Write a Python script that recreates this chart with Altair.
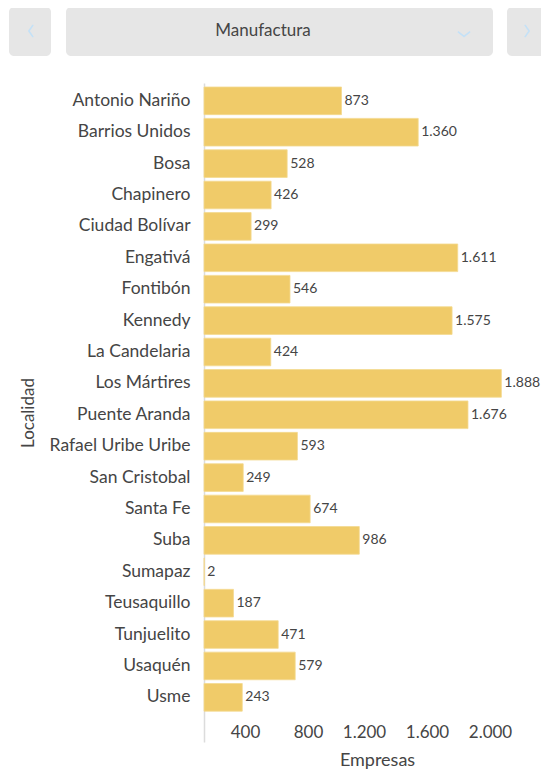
import altair as alt
import pandas as pd

localidades = ["Antonio Nariño", "Barrios Unidos", "Bosa", "Chapinero", "Ciudad Bolívar",
               "Engativá", "Fontibón", "Kennedy", "La Candelaria", "Los Mártires",
               "Puente Aranda", "Rafael Uribe Uribe", "San Cristobal", "Santa Fe", "Suba",
               "Sumapaz", "Teusaquillo", "Tunjuelito", "Usaquén", "Usme"]
empresas = [873, 1360, 528, 426, 299, 1611, 546, 1575, 424, 1888,
            1676, 593, 249, 674, 986, 2, 187, 471, 579, 243]
x_ticks = [400, 800, 1200, 1600, 2000]
sector = "Manufactura"

def fmt(v):
    return f"{v:,}".replace(",", ".")

df = pd.DataFrame({"Localidad": localidades, "Empresas": empresas,
                   "label": [fmt(v) for v in empresas]})

FONT = "Lato"
TXT = "#454545"
W, H = 315, 659

y_enc = alt.Y("Localidad:N", sort=None,
              scale=alt.Scale(paddingInner=0.12, paddingOuter=0.555, align=0.115),
              axis=alt.Axis(title="Localidad", ticks=False, tickSize=0,
                            labelFontSize=17.5, labelFont=FONT, labelColor=TXT,
                            labelPadding=14, domainColor="#dcdcdc", domainWidth=1.5,
                            titleFont=FONT, titleFontSize=17, titleFontWeight="normal",
                            titleColor=TXT, titleX=-176, titleY=H / 2,
                            titleBaseline="middle", titleAngle=270))
x_enc = alt.X("Empresas:Q", scale=alt.Scale(domain=[0, 2000], nice=False),
              axis=alt.Axis(title="Empresas", values=x_ticks, grid=False, domain=False,
                            ticks=False, tickSize=0, offset=-20, labelPadding=2.5,
                            labelOverlap=False, labelFlush=False, labelBound=False,
                            labelExpr="replace(format(datum.value, ','), ',', '.')",
                            labelFontSize=17, labelFont=FONT, labelColor=TXT,
                            labelOffset={"condition": {"test": "datum.value <= 800", "value": -22},
                                         "value": -29},
                            titleFont=FONT, titleFontSize=18, titleFontWeight="normal",
                            titleColor=TXT, titleX=173, titleY=43,
                            titleBaseline="alphabetic"))

base = alt.Chart(df)
bars = base.mark_bar(color="#F0CB69", stroke="#F4D98F", strokeWidth=0.8).encode(
    x=x_enc, y=y_enc)
labels = base.mark_text(align="left", baseline="middle", dx=3, fontSize=14,
                        font=FONT, color=TXT).encode(
    x="Empresas:Q", y=alt.Y("Localidad:N", sort=None), text="label:N")

one = alt.Chart(pd.DataFrame({"k": [0]}))
box_style = dict(color="#e6e6e6", cornerRadius=5)
box_l = one.mark_rect(**box_style).encode(x=alt.value(-195), x2=alt.value(-153),
                                          y=alt.value(-76), y2=alt.value(-27))
box_m = one.mark_rect(**box_style).encode(x=alt.value(-138), x2=alt.value(289),
                                          y=alt.value(-76), y2=alt.value(-27))
box_r = one.mark_rect(**box_style).encode(x=alt.value(303), x2=alt.value(360),
                                          y=alt.value(-76), y2=alt.value(-27))
title_txt = one.mark_text(fontSize=17, font=FONT, color=TXT, baseline="middle",
                          align="center").encode(x=alt.value(59), y=alt.value(-52),
                                                 text=alt.value(sector))
chev = dict(filled=False, strokeWidth=1.6, color="#c4e1f7", opacity=1)
chev_l = one.mark_point(shape="M 0.35 -1 L -0.35 0 L 0.35 1", size=150, **chev).encode(
    x=alt.value(-173), y=alt.value(-52))
chev_r = one.mark_point(shape="M -0.35 -1 L 0.35 0 L -0.35 1", size=150, **chev).encode(
    x=alt.value(323), y=alt.value(-52))
chev_d = one.mark_point(shape="M -1 -0.4 L 0 0.4 L 1 -0.4", size=150, **chev).encode(
    x=alt.value(260), y=alt.value(-49))

chart = alt.layer(box_l, box_m, box_r, title_txt, chev_l, chev_r, chev_d, bars, labels).properties(
    width=W, height=H, autosize="none",
    padding={"left": 196, "top": 75, "right": 22, "bottom": 28}
).configure(font=FONT).configure_view(strokeWidth=0, stroke="transparent")

chart.save("out.html", embed_options={"renderer": "svg", "actions": False})
